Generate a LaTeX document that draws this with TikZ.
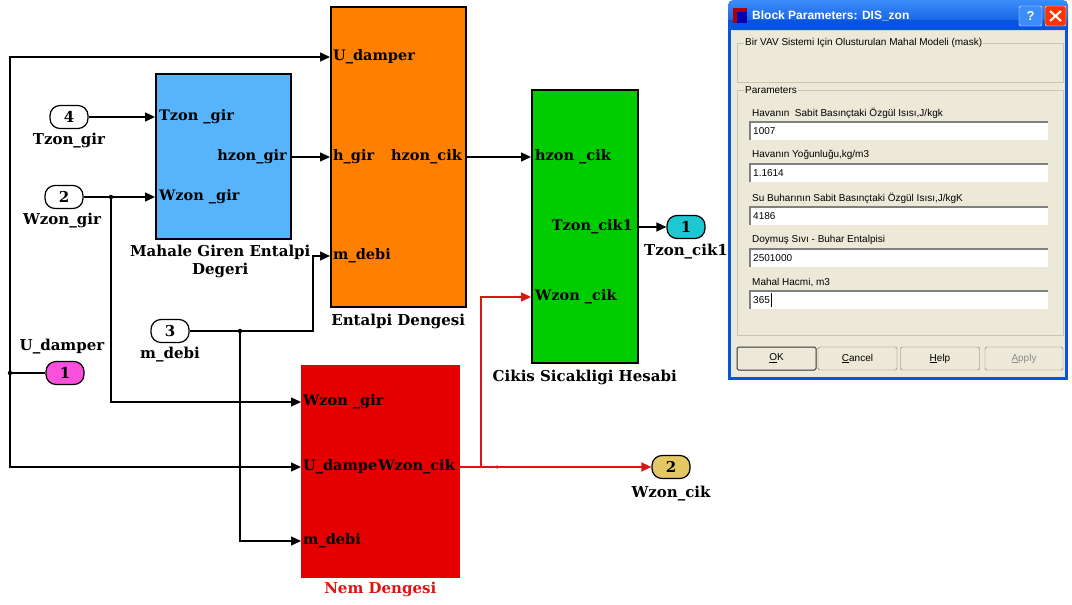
\documentclass[tikz,border=0pt]{standalone}
\usepackage{fontspec}
\setmainfont{DejaVu Serif}
\newfontfamily\dlgfont{Liberation Sans}
\usepackage{tikz}
\usetikzlibrary{arrows.meta}
\usetikzlibrary{positioning}
\usetikzlibrary{shapes}

\definecolor{bluBlk}{RGB}{88,180,250}
\definecolor{orgBlk}{RGB}{255,128,0}
\definecolor{grnBlk}{RGB}{0,204,0}
\definecolor{redBlk}{RGB}{228,0,0}
\definecolor{sigRed}{RGB}{222,20,20}
\definecolor{magPort}{RGB}{250,80,220}
\definecolor{cyPort}{RGB}{30,200,210}
\definecolor{ylPort}{RGB}{228,200,100}
\definecolor{dlgBg}{RGB}{236,233,216}
\definecolor{dlgLine}{RGB}{200,198,184}
\definecolor{xpTop}{RGB}{60,140,250}
\definecolor{xpBot}{RGB}{8,84,220}

\begin{document}
\begin{tikzpicture}[x=1pt,y=-1pt,
  blk/.style={draw,line width=1.5pt,anchor=north west,inner sep=0},
  port/.style={draw,line width=1.2pt,rounded corners=10pt,minimum width=38pt,minimum height=23pt,inner sep=0,font=\fontsize{15}{15}\selectfont\bfseries},
  ptxt/.style={font=\fontsize{14.5}{14.5}\selectfont\bfseries,inner sep=0},
  lbl/.style={font=\fontsize{15}{18}\selectfont\bfseries,inner sep=1pt,align=center},
  wire/.style={line width=1.3pt},
  sig/.style={wire,-{Triangle[length=10pt,width=9pt]}},
  dot/.style={circle,fill,inner sep=0,minimum size=4.5pt},
  dlg/.style={font=\dlgfont\fontsize{10}{10}\selectfont,inner sep=0,anchor=west},
  fld/.style={fill=white},
  btn/.style={draw=black!55,fill=dlgBg,rounded corners=1.5pt,font=\dlgfont\fontsize{10}{10}\selectfont}]
\useasboundingbox[fill=white] (0,0) rectangle (1072,605);

% blocks
\node[blk,fill=bluBlk,minimum width=135pt,minimum height=165pt] (blue) at (155,73) {};
\node[blk,fill=orgBlk,minimum width=135pt,minimum height=300pt] (orng) at (330,6) {};
\node[blk,fill=grnBlk,minimum width=106pt,minimum height=273pt] (grn) at (531,89) {};
\node[blk,draw=redBlk,fill=redBlk,minimum width=157pt,minimum height=211pt] (red) at (301,365) {};

% port points
\coordinate (bT) at (155,117);
\coordinate (bW) at (155,197);
\coordinate (bH) at (290,157);
\coordinate (oU) at (330,57);
\coordinate (oH) at (330,157);
\coordinate (oM) at (330,256);
\coordinate (oHc) at (465,157);
\coordinate (gH) at (531,157);
\coordinate (gW) at (531,297);
\coordinate (gT) at (637,227);
\coordinate (rW) at (301,402);
\coordinate (rU) at (301,467);
\coordinate (rM) at (301,541);
\coordinate (rWc) at (458,467);

% port texts
\node[ptxt,anchor=west] at ([xshift=4pt]bT) {Tzon \_gir};
\node[ptxt,anchor=west] at ([xshift=4pt]bW) {Wzon \_gir};
\node[ptxt,anchor=east] at ([xshift=-3pt]bH) {hzon\_gir};
\node[ptxt,anchor=west] at ([xshift=3pt]oU) {U\_damper};
\node[ptxt,anchor=west] at ([xshift=3pt]oH) {h\_gir};
\node[ptxt,anchor=west] at ([xshift=3pt]oM) {m\_debi};
\node[ptxt,anchor=east] at ([xshift=-3pt]oHc) {hzon\_cik};
\node[ptxt,anchor=west] at ([xshift=4pt]gH) {hzon \_cik};
\node[ptxt,anchor=west] at ([xshift=4pt]gW) {Wzon \_cik};
\node[ptxt,anchor=east] at ([xshift=-4pt]gT) {Tzon\_cik1};
\node[ptxt,anchor=west] at ([xshift=2pt]rW) {Wzon \_gir};
\node[ptxt,anchor=west] at ([xshift=2pt]rU) {U\_dampe};
\node[ptxt,anchor=east] at ([xshift=-3pt]rWc) {Wzon\_cik};
\node[ptxt,anchor=west] at ([xshift=2pt]rM) {m\_debi};

% captions
\node[lbl,below=4pt of blue,xshift=-3pt] {Mahale Giren Entalpi\\Degeri};
\node[lbl,below=5pt of orng] {Entalpi Dengesi};
\node[lbl,below=5pt of grn] {Cikis Sicakligi Hesabi};
\node[lbl,text=sigRed,below=3pt of red] {Nem Dengesi};

% in/out ports
\node[port] (in4) at (69,117) {4};
\node[port] (in2) at (64,197) {2};
\node[port] (in3) at (170,331) {3};
\node[port,fill=magPort] (in1) at (65,373) {1};
\node[port,fill=cyPort] (out1) at (686,227) {1};
\node[port,fill=ylPort] (out2) at (671,467) {2};
\node[lbl,below=3pt of in4] {Tzon\_gir};
\node[lbl,below=3pt of in2,xshift=-2pt] {Wzon\_gir};
\node[lbl,below=3pt of in3] {m\_debi};
\node[lbl,above=6pt of in1,xshift=-3pt] {U\_damper};
\node[lbl,below=4pt of out1] {Tzon\_cik1};
\node[lbl,below=6pt of out2] {Wzon\_cik};

% junctions
\node[dot] (j0) at (10,373) {};
\node[dot] (j1) at (111,197) {};
\node[dot] (j2) at (240,331) {};
\coordinate (j3) at (481,467);
\node[dot,fill=sigRed,minimum size=3.5pt] (j4) at (497,467) {};
\coordinate (mk) at (313,331);

% signals
\draw[wire] (in1) -- (j0.center);
\draw[sig] (j0.center) |- (oU);
\draw[sig] (j0.center) |- (rU);
\draw[sig] (in4) -- (bT);
\draw[sig] (in2) -- (bW);
\draw[sig] (j1.center) |- (rW);
\draw[sig] (bH) -- (oH);
\draw[sig] (in3) -- (mk) |- (oM);
\draw[sig] (j2.center) |- (rM);
\draw[sig] (oHc) -- (gH);
\draw[sig] (gT) -- (out1);
\draw[sig,draw=sigRed] (rWc) -- (out2);
\draw[sig,draw=sigRed] (j3) |- (gW);

% parameter dialog
\fill[xpBot] (728,4) rectangle (1068,380);
\fill[dlgBg] (731,30) rectangle (1065,377);
\shade[top color=xpTop,bottom color=xpBot,rounded corners=5pt] (728,0) rectangle (1068,30);
\fill[xpBot] (728,20) rectangle (1068,30);
\fill[red!70!black] (733,8) rectangle (747,23);
\fill[blue!70!black] (737,12) rectangle (747,23);
\node[dlg,text=white,font=\dlgfont\fontsize{12}{12}\selectfont\bfseries] at (752,16) {Block Parameters: DIS\_zon};
\draw[white,fill=xpTop,rounded corners=2pt] (1019,6) rectangle (1042,26);
\node[text=white,font=\dlgfont\bfseries\fontsize{13}{13}\selectfont] at (1030.5,16) {?};
\draw[white,fill=orange!40!red,rounded corners=2pt] (1045,6) rectangle (1066,26);
\draw[white,line width=2pt] (1050,11) -- (1061,21) (1050,21) -- (1061,11);

\draw[dlgLine] (737,43) rectangle (1063,82);
\node[dlg,fill=dlgBg,inner xsep=1pt] at (744,43) {Bir VAV Sistemi Için Olusturulan Mahal Modeli (mask)};
\draw[dlgLine] (737,90) rectangle (1063,335);
\node[dlg,fill=dlgBg,inner xsep=1pt] at (744,90) {Parameters};

\foreach \ty/\fy/\txt/\val in {113/122/{Havanın\ \ Sabit Basınçtaki Özgül Isısı,J/kgk}/1007,
  155/164/{Havanın Yoğunluğu,kg/m3}/1.1614,
  198/207/{Su Buharının Sabit Basınçtaki Özgül Isısı,J/kgK}/4186,
  240/249/{Doymuş Sıvı - Buhar Entalpisi}/2501000,
  283/291/{Mahal Hacmi, m3}/365}{
  \node[dlg] at (752,\ty) {\txt};
  \fill[fld] (750,\fy) rectangle (1048,\fy+18);
  \draw[black!50,line width=1.2pt] (750,\fy+18) -- (750,\fy) -- (1048,\fy);
  \node[dlg] at (753,\fy+9.5) {\val};
}
\draw[line width=0.6pt] (771,293) -- (771,307);

\node[btn,draw=black!80,line width=1pt,minimum width=79pt,minimum height=23pt] at (776.5,358.5) {\underline{O}K};
\node[btn,minimum width=79pt,minimum height=23pt] at (857.5,358.5) {\underline{C}ancel};
\node[btn,minimum width=79pt,minimum height=23pt] at (940,358.5) {\underline{H}elp};
\node[btn,text=black!45,minimum width=78pt,minimum height=23pt] at (1024,358.5) {\underline{A}pply};
\end{tikzpicture}
\end{document}
